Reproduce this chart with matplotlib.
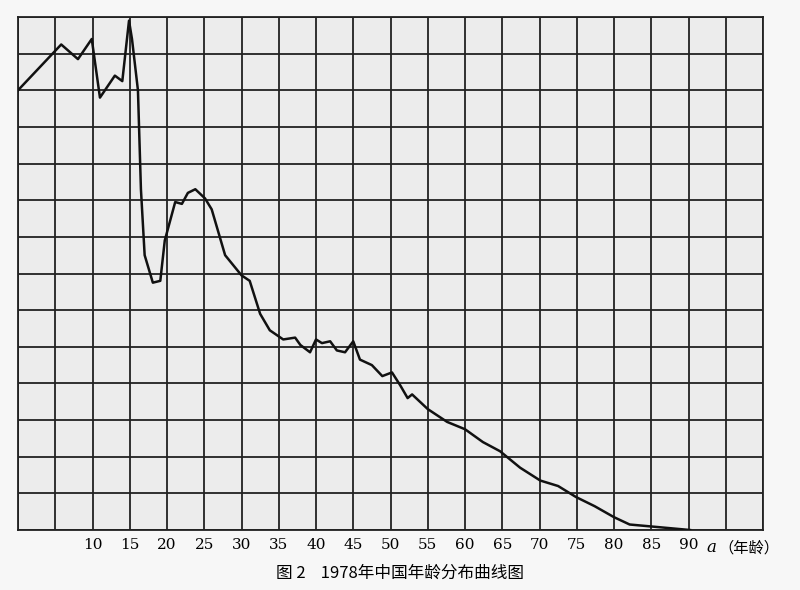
import matplotlib
matplotlib.use('Agg')
import matplotlib.pyplot as plt

plt.rcParams['font.family'] = ['Noto Sans CJK SC', 'DejaVu Sans']

# age (years) and population level (in grid units)
ages = [0, 5.8, 8.05, 9.9, 11, 13, 14, 14.9, 15.3, 16.1, 16.5, 17, 18.1, 19.1,
        19.7, 21.1, 22, 22.8, 23.8, 25.1, 26, 27.8, 30, 31.1, 32.5, 33.8, 35.6,
        37.2, 37.9, 39.2, 40, 40.8, 41.9, 42.8, 43.9, 45, 45.9, 47.5, 48.9,
        50.2, 51.3, 52.3, 52.9, 55, 57.6, 60, 62.4, 64.7, 67.4, 70.1, 72.5,
        74.9, 77.4, 80, 82.1, 84.8, 87.5, 90.2]
level = [12.0, 13.25, 12.85, 13.4, 11.8, 12.4, 12.25, 13.9, 13.4, 12.0, 9.3,
         7.5, 6.75, 6.8, 7.9, 8.95, 8.9, 9.2, 9.3, 9.05, 8.75, 7.5, 6.95, 6.8,
         5.9, 5.45, 5.2, 5.25, 5.05, 4.85, 5.2, 5.1, 5.15, 4.9, 4.85, 5.15,
         4.65, 4.5, 4.2, 4.3, 3.95, 3.6, 3.7, 3.3, 2.95, 2.75, 2.4, 2.15, 1.7,
         1.35, 1.2, 0.9, 0.65, 0.35, 0.15, 0.1, 0.05, 0.0]
tick_ages = list(range(10, 95, 5))

fig = plt.figure(figsize=(8, 5.9), dpi=100)
fig.patch.set_facecolor('#f7f7f7')
ax = fig.add_axes([18/800, 60/590, 745/800, 513/590])
ax.set_facecolor('#ececec')
ax.set_xlim(0, 100)
ax.set_ylim(0, 14)

for x in range(0, 101, 5):
    ax.axvline(x, color='#222222', lw=1.3, zorder=1)
for y in range(0, 15):
    ax.axhline(y, color='#222222', lw=1.3, zorder=1)
for s in ax.spines.values():
    s.set_color('#222222')
    s.set_linewidth(1.3)

ax.plot(ages, level, color='#111111', lw=1.8, zorder=3)

ax.set_xticks(tick_ages)
ax.set_xticklabels([str(t) for t in tick_ages], family='serif', fontsize=11)
ax.tick_params(axis='x', length=0, pad=6)
ax.set_yticks([])

fig.text(706/800, 1 - 548/590, 'a', fontsize=12, style='italic', family='serif',
         ha='left', va='center')
fig.text(718/800, 1 - 548/590, '（年龄）', fontsize=11, ha='left', va='center')
fig.text(400/800, 1 - 573/590, '图 2    1978年中国年龄分布曲线图', fontsize=12,
         ha='center', va='center')

plt.savefig('out.png', dpi=100, facecolor=fig.get_facecolor())
plt.close()
